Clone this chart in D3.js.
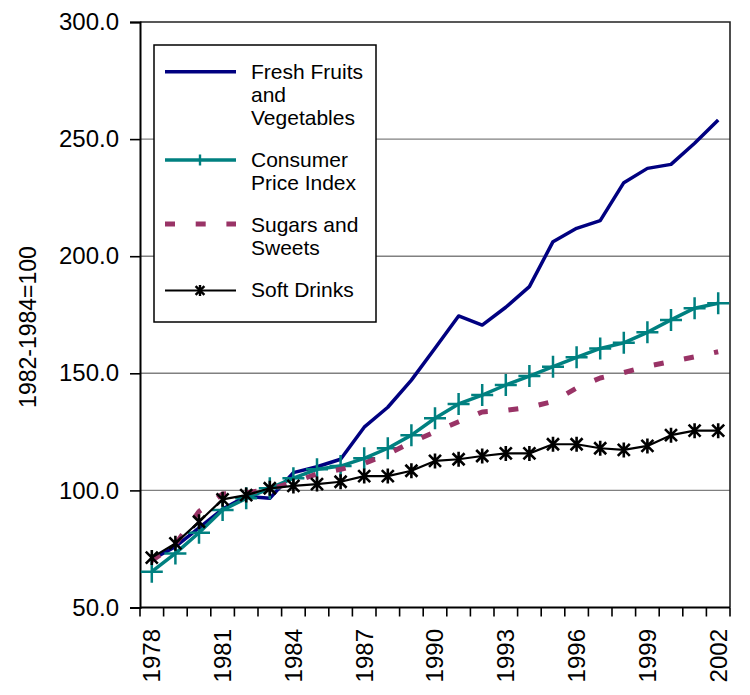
<!DOCTYPE html>
<html>
<head>
<meta charset="utf-8">
<script src="https://cdn.jsdelivr.net/npm/d3@7"></script>
<style>
  body { margin: 0; background: #fff; }
  svg { display: block; font-family: "Liberation Sans", Arial, sans-serif; }
</style>
</head>
<body>
<div id="chart"></div>
<script>
(function(){

  var width = 750;
  var height = 695;

  // index values, 1982-1984=100
  var years = d3.range(1978, 2003);
  var labelYears = [1978, 1981, 1984, 1987, 1990, 1993, 1996, 1999, 2002];
  var yTicks = [50, 100, 150, 200, 250, 300];

  var freshFruits = [70.5, 76, 84, 92, 97.5, 96.6, 107.6, 110.1, 113.3, 127, 135.5, 147.1, 160.7,
                     174.5, 170.6, 178.2, 187.0, 206.2, 211.9, 215.2, 231.4, 237.5, 239.2, 248.2, 258.2];
  var cpi = [65.3, 73.1, 81.9, 91.6, 96.6, 100.9, 105.2, 109.0, 110.4, 113.7, 118.0, 123.6, 130.8,
             136.9, 140.7, 145.0, 148.8, 152.8, 156.8, 160.6, 163.0, 167.5, 172.8, 177.8, 179.9];
  var sugars = [70, 77, 91, 98.5, 99, 100.5, 103.5, 107, 109, 111.5, 115.5, 120.5, 125,
                129.3, 133.5, 134.2, 135.5, 138, 143.7, 148, 150.3, 153, 155, 157, 159.2];
  var softDrinks = [71.3, 77.4, 86.6, 96.2, 98.0, 100.9, 101.9, 102.7, 103.7, 106.1, 106.1, 108.4, 112.6,
                    113.3, 114.7, 115.8, 115.8, 119.7, 119.7, 118.0, 117.3, 119.0, 123.6, 125.5, 125.5];

  var series = [
    {name: ['Fresh Fruits', 'and', 'Vegetables'], values: freshFruits, color: '#000080', width: 3.5, marker: null},
    {name: ['Consumer', 'Price Index'], values: cpi, color: '#008080', width: 3.5, marker: 'plus'},
    {name: ['Sugars and', 'Sweets'], values: sugars, color: '#993366', width: 5, dash: '10,20.7', marker: null},
    {name: ['Soft Drinks'], values: softDrinks, color: '#000000', width: 2.2, marker: 'star'}
  ];

  var plot = {left: 140, right: 730, top: 22, bottom: 607.5};

  var svg = d3.select('#chart')
    .append('svg')
      .attr('width', width)
      .attr('height', height);

  var x = d3.scaleBand()
    .domain(years)
    .range([plot.left, plot.right])
    .padding(0);

  var y = d3.scaleLinear()
    .domain([50, 300])
    .range([plot.bottom, plot.top]);

  var cx = function(yr){ return x(yr) + x.bandwidth() / 2; };

  // gridlines
  svg.append('g')
    .selectAll('line')
    .data(yTicks.filter(function(t){ return t > 50 && t < 300; }))
    .enter()
    .append('line')
      .attr('x1', plot.left)
      .attr('x2', plot.right)
      .attr('y1', function(d){ return y(d); })
      .attr('y2', function(d){ return y(d); })
      .attr('stroke', '#808080')
      .attr('stroke-width', 1.4);

  // plot border top + right
  svg.append('path')
    .attr('d', 'M' + plot.left + ',' + y(300) + 'H' + plot.right + 'V' + plot.bottom)
    .attr('fill', 'none')
    .attr('stroke', '#222')
    .attr('stroke-width', 1.6);

  // y axis
  var yAxis = svg.append('g')
    .attr('transform', 'translate(' + plot.left + ',0)')
    .call(d3.axisLeft(y)
      .tickValues(yTicks)
      .tickFormat(d3.format('.1f'))
      .tickSize(10)
      .tickPadding(11));
  yAxis.select('.domain').attr('stroke', '#000').attr('stroke-width', 2);
  yAxis.selectAll('.tick line').attr('stroke', '#000').attr('stroke-width', 1.6);
  yAxis.selectAll('.tick text')
    .attr('font-size', '24px')
    .attr('font-family', '"Liberation Sans", Arial, sans-serif')
    .attr('fill', '#000');

  // x axis: ticks at band edges, labels every third year
  var xAxis = svg.append('g')
    .attr('transform', 'translate(0,' + plot.bottom + ')');
  xAxis.append('line')
    .attr('x1', plot.left)
    .attr('x2', plot.right)
    .attr('stroke', '#000')
    .attr('stroke-width', 2);
  xAxis.selectAll('line.tk')
    .data(years.map(function(d){ return x(d); }).concat([plot.right]))
    .enter()
    .append('line')
      .attr('class', 'tk')
      .attr('x1', function(d){ return d; })
      .attr('x2', function(d){ return d; })
      .attr('y1', 0)
      .attr('y2', 9)
      .attr('stroke', '#000')
      .attr('stroke-width', 1.6);
  xAxis.selectAll('text')
    .data(labelYears)
    .enter()
    .append('text')
      .attr('transform', function(d){ return 'translate(' + cx(d) + ',21.5) rotate(-90)'; })
      .attr('dy', '0.35em')
      .attr('text-anchor', 'end')
      .attr('font-size', '24px')
      .attr('fill', '#000')
      .text(function(d){ return d; });

  // y title
  svg.append('text')
    .attr('transform', 'translate(28,327) rotate(-90)')
    .attr('dy', '0.35em')
    .attr('text-anchor', 'middle')
    .attr('font-size', '23px')
    .attr('fill', '#000')
    .text('1982-1984=100');

  // lines
  var line = d3.line()
    .x(function(d, i){ return cx(years[i]); })
    .y(function(d){ return y(d); });

  var markerPath = function(type, s){
    if(type == 'plus'){
      return 'M' + (-s) + ',0H' + s + 'M0,' + (-s) + 'V' + s;
    } else if(type == 'star'){
      var d = s * 0.8;
      return 'M0,' + (-s) + 'V' + s + 'M' + (-d) + ',' + (-d) + 'L' + d + ',' + d + 'M' + (-d) + ',' + d + 'L' + d + ',' + (-d);
    }
    return '';
  };

  series.forEach(function(s){
    svg.append('path')
      .datum(s.values)
      .attr('d', line)
      .attr('fill', 'none')
      .attr('stroke', s.color)
      .attr('stroke-width', s.width)
      .attr('stroke-dasharray', s.dash || null)
      .attr('stroke-linejoin', 'round');

    if(s.marker){
      svg.append('g')
        .selectAll('path')
        .data(s.values)
        .enter()
        .append('path')
          .attr('transform', function(d, i){ return 'translate(' + cx(years[i]) + ',' + y(d) + ')'; })
          .attr('d', markerPath(s.marker, s.marker == 'plus' ? 11 : 7.5))
          .attr('fill', 'none')
          .attr('stroke', s.color)
          .attr('stroke-width', s.marker == 'plus' ? 2.5 : 2.6);
    }
  });

  // legend
  var legend = svg.append('g');
  legend.append('rect')
    .attr('x', 154)
    .attr('y', 45)
    .attr('width', 222)
    .attr('height', 277)
    .attr('fill', '#fff')
    .attr('stroke', '#000')
    .attr('stroke-width', 1.5);

  var legendSampleY = [71.7, 160, 224, 290.5];
  var legendTextY = [78.5, 166.5, 231.5, 296.5];

  series.forEach(function(s, i){
    var g = legend.append('g');
    g.append('line')
      .attr('x1', 165)
      .attr('x2', 236)
      .attr('y1', legendSampleY[i])
      .attr('y2', legendSampleY[i])
      .attr('stroke', s.color)
      .attr('stroke-width', s.width)
      .attr('stroke-dasharray', s.dash || null);
    if(s.marker){
      g.append('path')
        .attr('transform', 'translate(200,' + legendSampleY[i] + ')')
        .attr('d', s.marker == 'plus' ? 'M0,-5.5V5.5' : markerPath('star', 5.5))
        .attr('fill', 'none')
        .attr('stroke', s.color)
        .attr('stroke-width', 2.4);
    }
    var t = g.append('text')
      .attr('x', 251)
      .attr('y', legendTextY[i])
      .attr('font-size', '21px')
      .attr('fill', '#000');
    t.selectAll('tspan')
      .data(s.name)
      .enter()
      .append('tspan')
        .attr('x', 251)
        .attr('dy', function(d, j){ return j == 0 ? 0 : 23; })
        .text(function(d){ return d; });
  });

})();
</script>
</body>
</html>
